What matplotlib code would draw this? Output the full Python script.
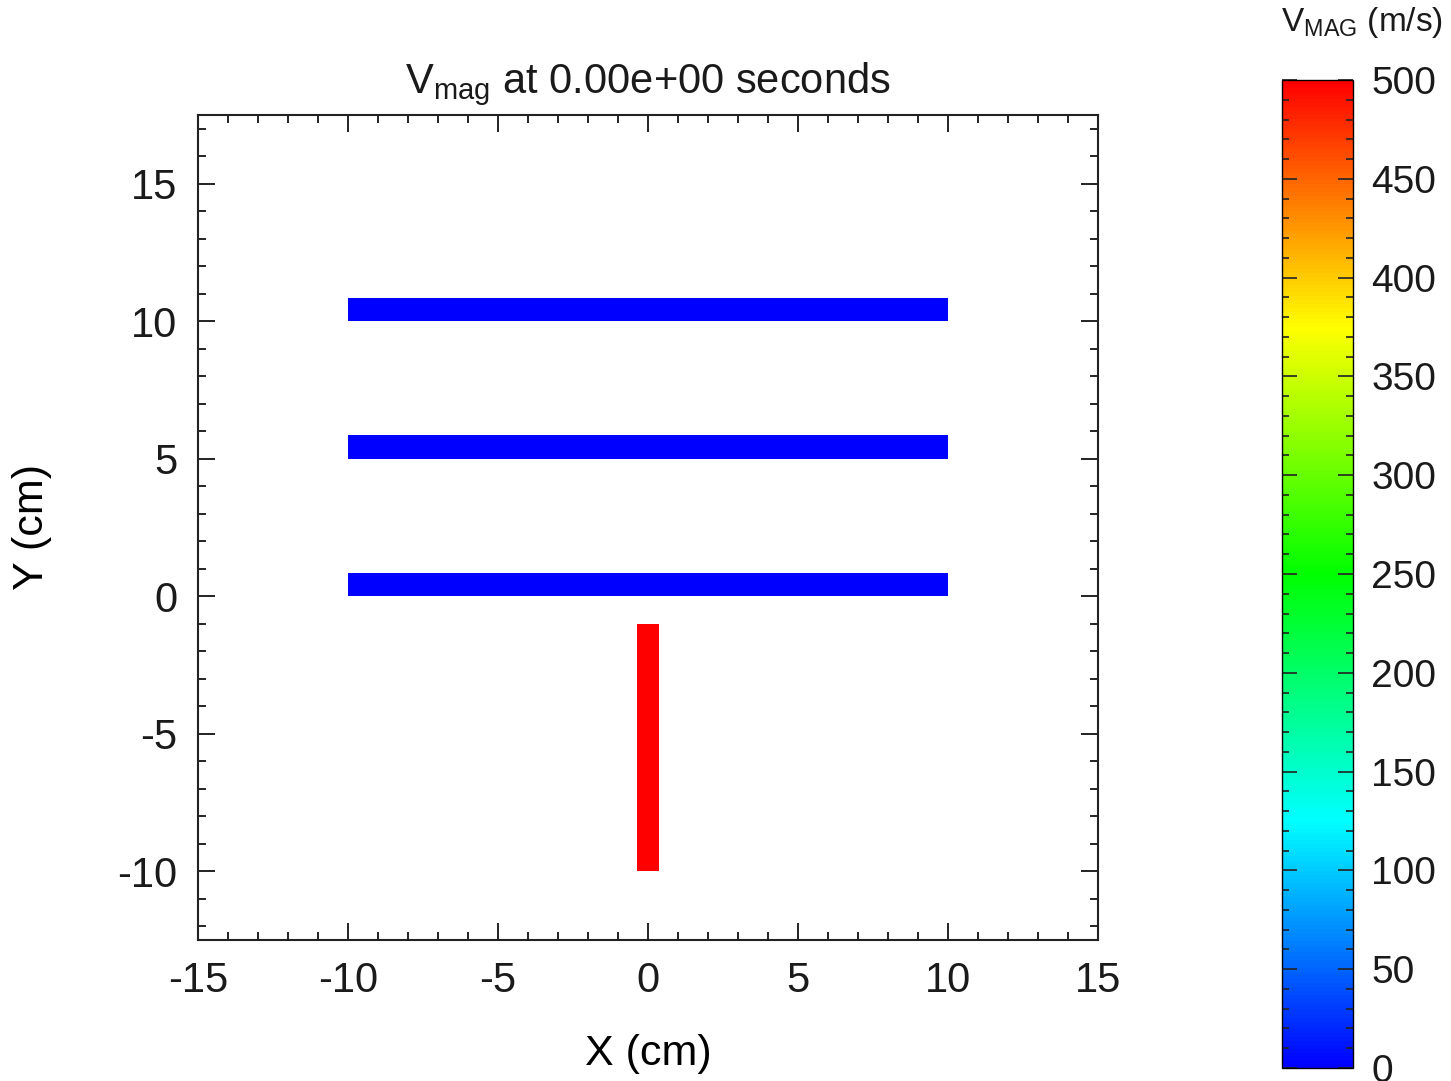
import numpy as np
import matplotlib
matplotlib.use("Agg")
import matplotlib.pyplot as plt
from matplotlib.colors import LinearSegmentedColormap, Normalize
from matplotlib.collections import PatchCollection
from matplotlib.patches import Rectangle
from matplotlib.ticker import MultipleLocator

plt.rcParams.update({
    "font.family": "Liberation Sans",
    "mathtext.fontset": "custom",
    "mathtext.rm": "Liberation Sans",
    "mathtext.it": "Liberation Sans",
    "axes.unicode_minus": False,
    "text.color": "#1a1a1a",
})

# projectile + three plates at t = 0 (cm), velocity magnitude (m/s)
part_x0 = [-10.0, -10.0, -10.0, -0.375]
part_x1 = [10.0, 10.0, 10.0, 0.375]
part_y0 = [0.0, 5.0, 10.0, -10.0]
part_y1 = [0.85, 5.85, 10.85, -1.0]
part_vmag = [0.0, 0.0, 0.0, 500.0]

vmin, vmax = 0, 500
cmap = LinearSegmentedColormap.from_list(
    "vmag", ["#0000ff", "#00ffff", "#00ff00", "#ffff00", "#ff0000"])
norm = Normalize(vmin, vmax)

W, H = 1451, 1081
fig = plt.figure(figsize=(W / 100, H / 100), dpi=100)
ax = fig.add_axes([198 / W, 1 - 940 / H, 900 / W, 825 / H])

rects = [Rectangle((a, c), b - a, d - c) for a, b, c, d in zip(part_x0, part_x1, part_y0, part_y1)]
pc = PatchCollection(rects, cmap=cmap, norm=norm, linewidth=0)
pc.set_array(np.array(part_vmag))
ax.add_collection(pc)

ax.set_xlim(-15, 15)
ax.set_ylim(-12.5, 17.5)
ax.xaxis.set_major_locator(MultipleLocator(5))
ax.xaxis.set_minor_locator(MultipleLocator(1))
ax.yaxis.set_major_locator(MultipleLocator(5))
ax.yaxis.set_minor_locator(MultipleLocator(1))
ax.tick_params(which="both", direction="in", top=True, right=True, width=1.4, color="#222222",
               labelsize=30, labelcolor="#1a1a1a")
ax.tick_params(which="major", length=12, pad=15)
ax.tick_params(which="minor", length=6)
for s in ax.spines.values():
    s.set_linewidth(1.5)
    s.set_color("#222222")

ax.set_xlabel("X (cm)", fontsize=31, labelpad=24)
ax.set_ylabel("Y (cm)", fontsize=31, labelpad=47)
ax.set_title(r"V$_{\mathrm{mag}}$ at 0.00e+00 seconds", fontsize=30, pad=16)

# colour bar
cax = fig.add_axes([1282 / W, 1 - 1068 / H, 71 / W, 988 / H])
sm = plt.cm.ScalarMappable(norm=norm, cmap=cmap)
cb = fig.colorbar(sm, cax=cax)
cb.outline.set_linewidth(1.0)
cax.yaxis.set_major_locator(MultipleLocator(50))
cax.yaxis.set_minor_locator(MultipleLocator(10))
cax.tick_params(which="both", direction="in", left=True, right=True, width=1.2, color="#222222",
                labelsize=28, labelcolor="#1a1a1a")
cax.tick_params(which="major", length=11, pad=13)
cax.tick_params(which="minor", length=5)
fig.text(1362 / W, 1 - 22 / H, r"V$_{\mathrm{MAG}}$ (m/s)", fontsize=24, ha="center", va="center")

fig.savefig("out.png", dpi=100, facecolor="white")
